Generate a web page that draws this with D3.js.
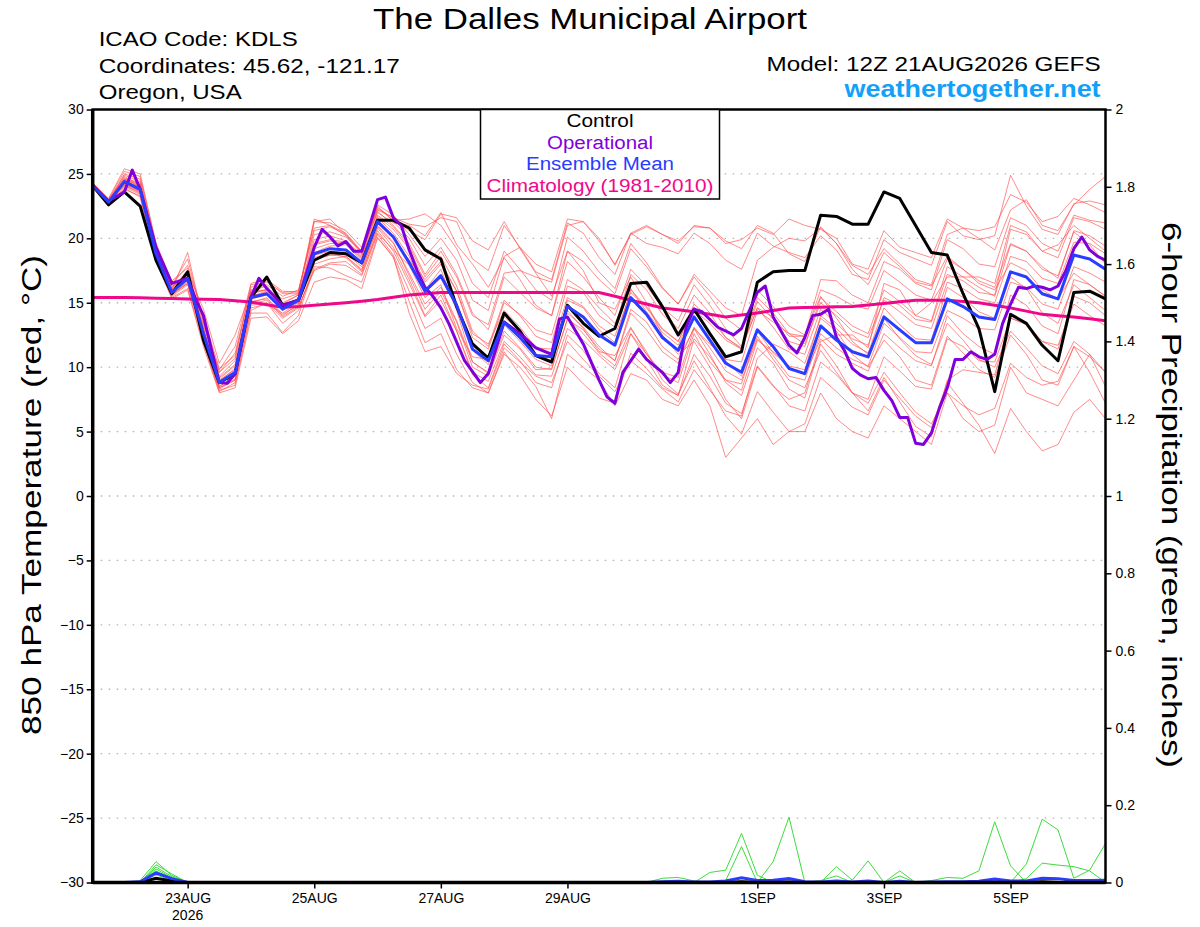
<!DOCTYPE html>
<html>
<head>
<meta charset="utf-8">
<script src="https://cdn.jsdelivr.net/npm/d3@7/dist/d3.min.js"></script>
<style>
  body { margin: 0; background: #fff; }
  svg { display: block; font-family: "Liberation Sans", Arial, Helvetica, sans-serif; }
</style>
</head>
<body>
<svg width="1200" height="927"></svg>
<script>
"use strict";

// run time: 12Z 21AUG2026, 6-hourly steps out to 384 h
const runStart = new Date(Date.UTC(2026, 7, 21, 12));
const runEnd = new Date(Date.UTC(2026, 8, 6, 12));
const dayTicks = ["2026-08-23", "2026-08-25", "2026-08-27", "2026-08-29", "2026-09-01", "2026-09-03", "2026-09-05"];
const tempTicks = [-30, -25, -20, -15, -10, -5, 0, 5, 10, 15, 20, 25, 30];
const precipTicks = [0, 0.2, 0.4, 0.6, 0.8, 1, 1.2, 1.4, 1.6, 1.8, 2];

// 850 hPa temperature (C), 6-hourly
const control = [24.1,22.6,23.6,22.5,18.3,15.7,17.4,12.1,8.8,9.5,
  15.4,17.0,14.8,15.2,18.3,18.9,18.8,18.1,21.4,21.4,
  20.8,19.1,18.4,14.7,11.8,10.7,14.2,12.8,10.9,10.4,
  14.8,13.4,12.4,13.0,16.5,16.6,14.7,12.5,14.5,12.6,
  10.8,11.2,16.6,17.4,17.5,17.5,21.8,21.7,21.1,21.1,
  23.6,23.1,21.0,18.9,18.7,15.7,13.0,8.1,14.1,13.4,
  11.7,10.5,15.8,15.9,15.3];

const ensMean = [24.1,22.8,24.4,23.8,18.8,15.8,16.9,12.6,8.8,9.6,
  15.4,15.7,14.5,15.2,18.8,19.2,19.1,18.1,21.3,20.1,
  18.1,15.9,17.1,14.8,11.4,10.5,13.5,12.3,10.9,10.8,
  14.7,13.9,12.5,11.7,15.4,14.1,12.3,11.3,13.9,12.1,
  10.3,9.6,12.9,11.6,9.9,9.5,13.2,12.1,11.2,10.8,
  13.9,12.9,11.9,11.9,15.3,14.7,13.9,13.7,17.4,17.0,
  15.7,15.3,18.7,18.4,17.6];

const climatology = [15.4,15.4,15.4,15.38,15.35,15.33,15.3,15.28,15.25,15.15,
  15.05,14.85,14.65,14.7,14.8,14.9,15.0,15.12,15.25,15.42,
  15.6,15.7,15.8,15.8,15.8,15.8,15.8,15.8,15.8,15.8,
  15.8,15.8,15.8,15.5,15.2,14.9,14.6,14.45,14.3,14.1,
  13.9,14.05,14.2,14.4,14.6,14.63,14.65,14.68,14.7,14.82,
  14.95,15.08,15.2,15.2,15.2,15.1,15.0,14.8,14.6,14.35,
  14.1,14.0,13.9,13.75,13.6];

// operational run is 3-hourly in places
const opHours = [0,6,12,15,18,24,30,36,39,42,48,51,54,60,63,66,72,78,84,87,
  90,93,96,99,102,108,111,114,117,120,123,126,129,132,135,141,147,150,156,162,
  168,174,177,180,186,192,195,198,201,207,210,216,219,222,225,228,231,237,243,246,
  252,255,258,264,267,270,273,276,279,282,285,288,291,294,297,300,303,306,309,312,
  315,318,321,324,327,330,333,336,339,342,345,348,351,354,357,360,363,366,369,372,
  375,378,381,384];
const operational = [24.1,22.9,23.6,25.3,23.8,19.3,16.5,16.9,15.3,14.0,8.8,8.75,9.5,15.4,16.9,16.1,14.8,15.2,19.3,20.7,
  20.1,19.4,19.75,19.0,19.0,23.0,23.2,21.6,21.0,19.1,17.5,16.2,15.5,14.6,13.4,10.5,8.8,9.5,13.5,12.6,
  11.5,11.0,13.75,13.9,11.8,9.0,7.7,7.2,9.6,11.4,10.6,9.6,8.8,9.6,13.1,14.5,14.3,13.1,12.5,13.0,
  15.8,16.3,13.9,11.7,11.1,12.3,14.0,14.1,14.5,12.3,11.3,9.9,9.4,9.1,9.2,8.2,7.4,6.1,6.1,4.1,
  4.0,4.9,6.8,8.4,10.6,10.6,11.2,10.8,10.6,11.0,13.4,14.9,16.2,16.1,16.3,16.2,16.0,16.3,17.5,19.2,
  20.1,19.1,18.6,18.3];

const member01 = [24.3,23.1,25.4,25.0,19.6,16.4,18.4,13.6,9.6,11.1,16.2,16.7,15.7,15.7,
  21.3,21.2,20.6,19.3,22.3,21.6,21.1,20.9,21.6,21.3,18.4,17.5,
  21.0,19.3,17.4,16.8,21.2,20.4,18.5,17.2,20.4,19.6,19.3,18.8,20.4,19.6,18.3,17.6,
  20.4,19.4,18.9,18.5,20.2,19.1,17.2,16.8,19.9,18.9,18.4,17.9,21.3,20.2,19.9,20.2,24.9,22.5,20.7,20.3,22.7,22.9,22.6];
const member02 = [23.9,22.5,23.9,23.2,18.3,15.4,16.1,11.8,8.2,8.6,14.2,14.2,12.7,14.0,
  17.8,17.7,17.1,16.6,20.1,18.5,15.1,11.9,12.6,9.8,8.4,8.0,
  11.0,10.0,8.5,6.0,11.0,10.0,9.0,7.0,9.5,9.0,7.5,7.0,9.0,7.0,3.0,4.5,
  6.0,4.0,5.0,5.0,8.0,6.0,5.0,4.5,7.0,6.0,5.0,4.0,8.0,6.0,5.0,5.5,10.0,8.0,7.5,7.0,9.0,11.0,8.5];
const member03 = [24.2,22.8,25.0,24.6,19.3,16.0,17.4,14.5,10.3,12.5,15.9,16.0,15.3,15.7,
  21.3,21.5,20.3,18.9,22.2,21.6,20.6,19.9,21.9,21.6,19.8,19.1,
  21.3,19.2,17.3,15.5,19.0,17.5,15.0,14.5,17.0,15.0,12.5,11.0,12.0,10.0,7.5,6.0,
  10.0,8.5,7.5,8.0,12.0,12.5,12.5,11.5,16.5,16.0,14.0,15.0,17.0,17.0,17.0,16.5,21.0,20.5,19.0,19.5,21.0,20.0,19.0];
const member04 = [24.0,22.9,24.8,24.1,19.2,16.2,17.2,12.9,9.0,9.8,15.8,16.0,14.9,15.6,
  19.5,19.8,19.6,18.5,21.8,20.9,19.4,17.0,18.6,16.3,12.8,11.6,
  15.2,14.0,12.4,11.9,16.3,15.8,14.0,13.1,17.2,16.0,14.1,13.0,15.6,14.2,12.3,11.4,
  15.1,13.7,12.0,11.6,15.4,14.3,13.2,12.6,16.0,15.1,14.0,13.6,17.8,17.0,16.2,15.5,19.5,19.0,17.8,16.9,20.6,20.2,19.4];
const member05 = [24.2,22.6,24.0,23.4,18.4,15.5,16.4,12.1,8.4,9.1,14.8,15.0,13.8,14.6,
  17.6,18.1,18.2,17.2,20.6,19.0,16.5,13.9,15.2,12.8,9.6,8.9,
  12.0,10.8,9.4,9.3,13.0,12.1,10.9,9.8,12.6,10.6,8.6,7.8,11.0,9.3,7.2,6.4,
  10.1,8.6,7.0,6.6,10.4,9.4,8.0,7.5,10.8,9.7,8.5,8.3,12.2,11.6,10.5,10.4,13.8,13.3,12.0,11.7,14.9,14.0,13.2];
const member06 = [24.3,23.0,24.6,24.0,19.0,16.0,18.9,13.5,9.3,10.5,15.6,15.6,14.4,15.4,
  20.3,20.5,20.1,19.0,22.5,21.3,20.0,17.9,19.3,17.2,14.2,12.9,
  17.0,15.8,14.6,14.0,19.0,18.2,16.8,15.7,19.2,17.8,16.1,14.9,17.0,15.5,13.8,12.9,
  16.0,14.7,13.2,12.5,15.5,13.8,12.0,11.0,13.8,12.2,10.9,10.2,13.4,12.1,10.6,10.0,12.8,11.5,10.1,9.5,12.0,11.0,9.6];
const member07 = [24.1,22.7,24.2,23.6,18.6,15.6,16.6,12.3,8.5,9.3,15.1,15.3,14.0,14.9,
  18.4,18.7,18.6,17.6,20.9,19.6,17.3,14.9,16.2,13.6,10.4,9.5,
  12.8,11.5,10.0,9.8,13.8,12.6,11.1,10.1,13.0,11.2,9.0,7.9,10.5,8.4,6.2,4.8,
  8.1,6.5,5.0,5.6,9.2,8.1,6.9,6.3,9.0,7.6,6.2,5.3,8.8,7.2,5.5,3.3,6.8,5.0,3.5,4.0,6.5,7.5,6.0];
const member08 = [24.2,23.0,25.2,24.8,19.6,16.7,17.7,13.3,9.6,10.7,16.4,16.6,15.8,15.9,
  20.8,21.0,20.2,18.8,22.4,21.4,21.5,21.9,21.0,19.2,16.5,15.4,
  19.0,17.6,16.0,15.2,20.1,19.0,17.4,16.1,19.6,18.1,16.2,14.9,17.2,15.9,14.6,14.0,
  18.3,19.3,20.0,19.8,20.8,19.6,17.9,17.2,19.2,18.0,16.8,16.4,20.3,20.8,20.0,19.1,22.2,23.0,21.0,20.6,22.6,23.8,24.8];
const member09 = [24.0,22.7,24.3,23.9,18.9,15.9,16.8,12.8,8.9,9.9,15.5,15.9,14.6,15.0,
  18.9,19.4,19.5,18.3,21.2,20.0,18.3,15.8,16.9,14.6,11.3,10.2,
  13.6,12.2,11.0,10.7,14.2,13.1,11.6,10.5,14.5,13.5,11.6,10.6,13.0,11.0,8.8,7.8,
  11.5,10.3,8.3,7.6,11.8,10.1,8.0,6.6,9.2,7.3,5.4,4.6,9.0,9.8,9.6,9.4,13.8,13.4,12.0,11.4,15.5,15.0,14.0];
const member10 = [24.3,22.9,24.7,24.3,19.3,16.3,17.0,13.2,9.8,11.6,16.5,16.8,15.9,15.8,
  21.5,21.0,20.4,19.0,22.0,21.2,21.0,20.2,22.0,19.5,18.0,16.2,
  18.5,16.8,14.8,14.0,18.2,17.0,15.4,14.0,17.6,16.3,14.6,13.6,16.4,14.8,13.0,11.6,
  15.4,14.2,12.6,11.8,15.0,14.0,12.8,12.3,15.2,14.3,13.3,13.0,16.6,16.1,15.3,15.0,18.6,18.2,16.9,16.5,19.7,19.6,18.8];
const member11 = [24.1,22.8,24.1,23.6,18.6,15.6,16.7,12.4,8.5,9.3,15.0,15.4,14.1,14.8,
  18.3,18.7,18.8,17.8,21.0,19.7,17.1,14.5,15.9,13.5,10.0,9.3,
  12.5,11.4,9.8,9.9,13.7,12.9,11.4,10.5,14.2,12.9,11.2,10.3,13.1,11.5,9.7,9.0,
  12.2,10.9,9.3,9.0,12.6,11.5,10.6,10.1,13.4,12.3,11.2,11.1,14.4,13.8,13.0,12.9,16.6,16.2,14.9,14.5,17.8,17.3,16.6];
const member12 = [24.2,22.6,24.5,24.0,18.7,15.7,16.5,12.0,8.1,8.8,14.4,15.0,13.4,14.4,
  18.0,18.4,18.6,17.5,20.8,19.3,16.8,14.0,15.6,12.8,9.4,8.4,
  11.8,10.5,8.8,8.4,12.5,11.3,9.5,8.4,12.6,11.0,9.6,9.2,13.0,11.8,10.6,10.4,
  14.4,13.5,12.6,12.4,16.0,15.5,14.8,14.5,17.5,16.6,15.6,15.2,18.4,17.6,16.7,16.2,19.6,19.0,17.6,17.1,20.5,19.5,18.0];
const member13 = [24.1,22.9,24.6,24.1,19.1,16.1,17.5,13.0,9.1,10.1,15.9,16.3,15.0,15.6,
  19.9,20.2,19.8,18.7,22.1,21.0,19.6,17.2,19.0,17.0,14.0,13.3,
  17.3,17.5,17.0,16.6,21.0,21.3,19.8,18.0,20.3,20.9,20.3,19.6,21.0,20.8,19.8,19.2,
  21.0,20.4,18.8,18.2,20.9,19.6,17.6,16.4,18.9,17.8,16.6,16.3,18.6,17.6,16.5,16.0,18.1,17.5,16.0,15.3,17.3,16.4,15.5];
const member14 = [24.0,22.6,23.8,23.3,18.2,15.3,16.0,11.6,8.0,8.4,13.8,13.9,12.6,13.6,
  16.6,17.0,16.8,16.1,20.0,18.6,14.2,11.2,11.6,9.5,8.6,8.3,
  11.5,10.4,9.3,8.8,12.0,10.6,9.3,8.1,10.5,9.5,8.3,7.3,9.8,8.2,6.6,6.2,
  10.7,11.8,11.2,10.3,13.8,12.8,11.0,10.0,12.1,10.8,9.0,8.6,12.4,11.1,9.8,9.2,12.5,11.0,9.0,8.6,11.6,9.6,7.2];
const member15 = [24.2,22.8,24.5,23.9,18.9,15.8,16.9,12.7,8.9,9.6,15.5,15.8,14.6,15.2,
  19.2,19.6,19.6,18.4,21.6,20.4,18.6,16.0,17.6,14.4,10.4,9.6,
  13.3,12.0,10.6,10.1,15.2,14.6,12.9,11.9,16.0,14.7,13.0,12.0,14.6,12.6,10.5,9.3,
  12.4,10.6,9.0,8.4,11.3,9.6,8.0,7.2,9.6,8.0,6.5,5.6,8.0,7.0,6.3,6.8,10.3,9.2,8.6,8.9,11.6,10.8,9.6];
const member16 = [24.1,22.8,24.3,23.7,18.7,15.7,16.8,12.5,8.7,9.5,15.3,15.6,14.5,15.1,
  18.7,19.0,18.9,18.0,21.2,20.0,18.3,16.8,18.2,15.9,12.6,11.8,
  14.4,13.1,11.5,11.4,15.4,14.7,13.2,12.4,15.8,14.6,12.9,12.0,14.9,13.8,12.3,11.5,
  14.6,13.9,12.4,12.4,16.8,16.7,15.6,15.0,18.2,17.6,16.5,16.0,19.9,19.2,18.0,17.8,21.6,21.0,19.6,19.0,21.8,21.4,21.2];
const member17 = [24.2,22.7,24.1,23.5,18.5,15.9,17.1,12.2,8.4,9.0,14.6,14.9,14.2,15.0,
  18.5,18.9,18.5,17.4,20.4,19.1,17.9,15.4,16.4,13.0,10.8,10.6,
  13.9,12.8,11.6,11.1,14.4,13.0,11.2,10.9,13.1,11.0,9.4,8.8,12.6,10.4,9.0,8.7,
  12.8,11.1,10.0,9.4,12.2,11.0,10.3,9.7,12.6,11.5,10.5,10.1,14.0,12.6,11.6,11.0,15.6,14.8,13.2,12.6,16.8,16.4,15.5];
const member18 = [24.3,23.0,24.9,24.4,19.4,16.4,17.9,13.9,9.9,10.9,16.0,16.4,15.5,16.0,
  20.6,20.9,20.3,18.9,22.6,21.8,20.3,18.6,20.0,18.3,15.2,14.4,
  18.6,19.3,18.0,17.4,21.5,21.3,20.0,17.9,20.4,21.0,20.3,19.8,20.9,20.8,19.6,19.9,
  20.8,20.3,21.5,21.0,20.7,20.0,18.0,17.6,20.6,19.3,18.9,18.5,21.5,20.8,20.6,20.9,23.4,22.8,21.3,21.7,23.1,22.6,22.0];
const member19 = [24.0,22.7,24.2,23.7,18.6,15.6,16.5,12.0,8.3,9.0,14.9,15.2,13.9,14.7,
  17.5,18.0,17.9,17.1,20.3,18.7,15.9,13.0,13.8,11.0,8.8,8.0,
  11.2,9.4,7.5,6.2,10.0,8.7,7.6,7.2,11.1,9.9,8.4,7.8,12.2,10.8,9.0,8.2,
  12.1,11.2,10.1,9.8,14.0,13.0,11.8,11.1,14.6,13.3,12.2,12.1,16.2,15.4,14.3,13.8,17.0,16.1,14.2,13.4,16.4,15.4,14.4];
const member20 = [24.2,22.9,24.6,24.2,19.1,16.0,17.2,12.9,9.2,10.2,15.7,16.0,14.8,15.3,
  19.6,19.9,19.7,18.6,21.7,20.7,19.2,16.6,18.0,15.9,12.3,11.4,
  15.0,14.1,12.9,12.5,16.8,16.0,14.6,13.4,16.1,14.3,12.7,11.7,14.4,13.4,12.1,11.4,
  14.6,13.1,11.4,11.0,14.5,13.4,12.2,11.7,15.4,14.8,13.7,13.5,17.2,16.7,15.8,15.6,20.7,20.3,19.0,18.5,21.6,21.3,20.7];
const members = [member01, member02, member03, member04, member05, member06, member07, member08, member09, member10,
  member11, member12, member13, member14, member15, member16, member17, member18, member19, member20];

// 6-hour precipitation (inches)
const precip01 = [0,0,0,.005,.054,.018,0,0,0,0, 0,0,0,0,0,0,0,0,0,0, 0,0,0,0,0,0,0,0,0,0,
  0,0,0,0,0,0,0,0,0,.026, .032,.127,.019,0,0,0,0,0,0,0, 0,0,0,0,0,0,0,0,0,0, 0,0,0,0,0];
const precip02 = [0,0,0,0,.046,.022,0,0,0,0, 0,0,0,0,0,0,0,0,0,0, 0,0,0,0,0,0,0,0,0,0,
  0,0,0,0,0,0,0,0,0,0, .005,.093,0,.054,.169,0,0,0,0,0, 0,0,0,0,0,0,0,0,0,0, 0,0,0,0,0];
const precip03 = [0,0,0,0,.040,.015,0,0,0,0, 0,0,0,0,0,0,0,0,0,0, 0,0,0,0,0,0,0,0,0,0,
  0,0,0,0,0,0,.011,.013,.004,0, 0,0,0,0,0,0,0,.041,.006,.056, 0,.030,0,0,0,0,0,0,0,0, 0,0,0,0,0];
const precip04 = [0,0,0,0,.035,.012,0,0,0,0, 0,0,0,0,0,0,0,0,0,0, 0,0,0,0,0,0,0,0,0,0,
  0,0,0,0,0,0,0,0,0,0, 0,0,0,0,0,0,.005,.017,0,0, 0,.017,0,0,0,0,0,0,0,0, 0,0,0,0,0];
const precip05 = [0,0,0,0,.030,.010,0,0,0,0, 0,0,0,0,0,0,0,0,0,0, 0,0,0,0,0,0,0,0,0,0,
  0,0,0,0,0,0,0,0,0,0, 0,0,0,0,0,0,0,0,0,0, 0,0,0,.005,.013,.011,.030,.157,.043,0, 0,0,0,0,0];
const precip06 = [0,0,0,0,.026,.008,0,0,0,0, 0,0,0,0,0,0,0,0,0,0, 0,0,0,0,0,0,0,0,0,0,
  0,0,0,0,0,0,0,0,0,0, 0,0,0,0,0,0,0,0,0,0, 0,0,0,0,0,0,0,0,0,.048, .164,.136,.011,.032,.101];
const precip07 = [0,0,0,0,.020,.006,0,0,0,0, 0,0,0,0,0,0,0,0,0,0, 0,0,0,0,0,0,0,0,0,0,
  0,0,0,0,0,0,0,0,0,0, 0,0,0,0,0,0,0,0,0,0, 0,0,0,0,0,0,0,0,0,.010, .050,.045,.041,.030,0];
const precip08 = [0,0,0,.002,.012,.004,0,0,0,0, 0,0,0,0,0,0,0,0,0,0, 0,0,0,0,0,0,0,0,0,0,
  0,0,0,0,0,0,0,0,0,0, 0,0,0,0,0,0,0,0,0,0, 0,0,0,0,0,0,0,0,0,0, 0,0,0,0,0];
const precipMembers = [precip01, precip02, precip03, precip04, precip05, precip06, precip07, precip08];
const precipMean = [0,0,0,.002,.025,.010,0,0,0,0, 0,0,0,0,0,0,0,0,0,0, 0,0,0,0,0,0,0,0,0,0,
  0,0,0,0,0,0,.002,.003,.001,.001, .004,.012,.005,.006,.010,.002,.001,.004,.001,.004,
  0,.003,0,.001,.002,.002,.003,.009,.004,.004, .011,.010,.005,.005,.006];
const precipControl = [0,0,0,0,.011,.004,0,0,0,0, 0,0,0,0,0,0,0,0,0,0, 0,0,0,0,0,0,0,0,0,0,
  0,0,0,0,0,0,0,0,0,0, 0,.002,0,0,.001,0,0,0,0,0, 0,0,0,0,0,0,0,.001,0,0, .002,0,0,0,0];

const legendItems = [
  { label: "Control", color: "#000000", width: 67 },
  { label: "Operational", color: "#8000dc", width: 106 },
  { label: "Ensemble Mean", color: "#2a3cff", width: 148 },
  { label: "Climatology (1981-2010)", color: "#f0088a", width: 227 }
];

// ---- layout ----
const plotL = 92.7, plotR = 1105.5, plotT = 109.5, plotB = 882.5;

const svg = d3.select("svg");

const x = d3.scaleUtc().domain([runStart, runEnd]).range([plotL, plotR]);
const yT = d3.scaleLinear().domain([-30, 30]).range([plotB, plotT]);
const yP = d3.scaleLinear().domain([0, 2]).range([plotB, plotT]);
const xHour = h => x(new Date(runStart.getTime() + h * 3600e3));

const tempLine = d3.line().x((d, i) => xHour(i * 6)).y(d => yT(d));
const precipLine = d3.line().x((d, i) => xHour(i * 6)).y(d => yP(d));
const opLine = d3.line().x((d, i) => xHour(opHours[i])).y(d => yT(d));

// dotted grid
svg.append("g")
  .selectAll("line")
  .data(tempTicks.filter(t => t > -30 && t < 30))
  .join("line")
    .attr("x1", plotL).attr("x2", plotR)
    .attr("y1", d => yT(d)).attr("y2", d => yT(d))
    .attr("stroke", "#b4b4b4")
    .attr("stroke-width", 1.4)
    .attr("stroke-dasharray", "1.5,6.5");

// ensemble members
svg.append("g")
  .selectAll("path")
  .data(members)
  .join("path")
    .attr("d", tempLine)
    .attr("fill", "none")
    .attr("stroke", "#ff4a4a")
    .attr("stroke-opacity", 0.8)
    .attr("stroke-width", 0.8);

// precipitation
svg.append("g")
  .selectAll("path")
  .data(precipMembers)
  .join("path")
    .attr("d", precipLine)
    .attr("fill", "none")
    .attr("stroke", "#3ddc3d")
    .attr("stroke-width", 1);

svg.append("path").attr("d", precipLine(precipControl))
  .attr("fill", "none").attr("stroke", "#000").attr("stroke-width", 3);
svg.append("path").attr("d", precipLine(precipMean))
  .attr("fill", "none").attr("stroke", "#2a3cff").attr("stroke-width", 3);

// main lines
svg.append("path").attr("d", tempLine(climatology))
  .attr("fill", "none").attr("stroke", "#f0088a").attr("stroke-width", 3);
svg.append("path").attr("d", tempLine(control))
  .attr("fill", "none").attr("stroke", "#000").attr("stroke-width", 3)
  .attr("stroke-linejoin", "round");
svg.append("path").attr("d", opLine(operational))
  .attr("fill", "none").attr("stroke", "#8000dc").attr("stroke-width", 3)
  .attr("stroke-linejoin", "round");
svg.append("path").attr("d", tempLine(ensMean))
  .attr("fill", "none").attr("stroke", "#2a3cff").attr("stroke-width", 3)
  .attr("stroke-linejoin", "round");

// axes
function styleAxis(g) {
  g.select(".domain").remove();
  g.selectAll(".tick line").attr("stroke", "#000").attr("stroke-width", 1.5);
  g.selectAll(".tick text").attr("fill", "#000").attr("font-size", 14)
    .attr("font-family", "'Liberation Sans', Arial, sans-serif");
}

svg.append("g")
  .attr("transform", `translate(${plotL},0)`)
  .call(d3.axisLeft(yT).tickValues(tempTicks).tickSize(6).tickPadding(3))
  .call(styleAxis);

svg.append("g")
  .attr("transform", `translate(${plotR},0)`)
  .call(d3.axisRight(yP).tickValues(precipTicks).tickSize(6).tickPadding(4)
    .tickFormat(d => String(+d.toFixed(1))))
  .call(styleAxis);

const tickDates = dayTicks.map(s => new Date(s + "T00:00:00Z"));
const fmtDay = d3.utcFormat("%-d%b");
svg.append("g")
  .attr("transform", `translate(0,${plotB})`)
  .call(d3.axisBottom(x).tickValues(tickDates).tickSize(6).tickPadding(5)
    .tickFormat(d => fmtDay(d).toUpperCase()))
  .call(styleAxis);

svg.append("text")
  .attr("x", x(tickDates[0])).attr("y", 920)
  .attr("text-anchor", "middle").attr("font-size", 14)
  .text("2026");

// plot frame
svg.append("rect")
  .attr("x", plotL).attr("y", plotT)
  .attr("width", plotR - plotL).attr("height", plotB - plotT)
  .attr("fill", "none").attr("stroke", "#000").attr("stroke-width", 2.5);
svg.append("line").attr("x1", plotL).attr("x2", plotL).attr("y1", plotT).attr("y2", plotB + 1.5)
  .attr("stroke", "#000").attr("stroke-width", 3.5);
svg.append("line").attr("x1", plotL).attr("x2", plotR).attr("y1", plotB).attr("y2", plotB)
  .attr("stroke", "#000").attr("stroke-width", 3.5);

// legend
const legend = svg.append("g");
legend.append("rect")
  .attr("x", 480.5).attr("y", plotT)
  .attr("width", 239).attr("height", 89.5)
  .attr("fill", "#fff").attr("stroke", "#000").attr("stroke-width", 1.5);
legend.selectAll("text")
  .data(legendItems)
  .join("text")
    .attr("x", 600)
    .attr("y", (d, i) => 127 + i * 21.6)
    .attr("text-anchor", "middle")
    .attr("font-size", 18)
    .attr("fill", d => d.color)
    .attr("textLength", d => d.width)
    .attr("lengthAdjust", "spacingAndGlyphs")
    .text(d => d.label);

// header texts
function addText(txt, xPos, yPos, size, width, anchor, extra) {
  const t = svg.append("text")
    .attr("x", xPos).attr("y", yPos)
    .attr("font-size", size)
    .attr("text-anchor", anchor || "start")
    .attr("textLength", width)
    .attr("lengthAdjust", "spacingAndGlyphs")
    .text(txt);
  if (extra) extra(t);
  return t;
}

addText("The Dalles Municipal Airport", 590, 28.5, 29, 434, "middle");
addText("ICAO Code: KDLS", 98.7, 45.7, 20, 199);
addText("Coordinates: 45.62, -121.17", 98.7, 72.7, 20, 301);
addText("Oregon, USA", 98.7, 99.3, 20, 143);
addText("Model: 12Z 21AUG2026 GEFS", 1100.6, 70.7, 20, 334, "end");
addText("weathertogether.net", 1100.6, 97.3, 23, 256, "end",
  t => t.attr("font-weight", "bold").attr("fill", "#12a0f8"));

// axis titles
svg.append("text")
  .attr("transform", "translate(41,495) rotate(-90)")
  .attr("text-anchor", "middle")
  .attr("font-size", 27)
  .attr("textLength", 480)
  .attr("lengthAdjust", "spacingAndGlyphs")
  .text("850 hPa Temperature (red, \u00B0C)");

svg.append("text")
  .attr("transform", "translate(1162,495) rotate(90)")
  .attr("text-anchor", "middle")
  .attr("font-size", 27)
  .attr("textLength", 546)
  .attr("lengthAdjust", "spacingAndGlyphs")
  .text("6-hour Precipitation (green, inches)");
</script>
</body>
</html>
